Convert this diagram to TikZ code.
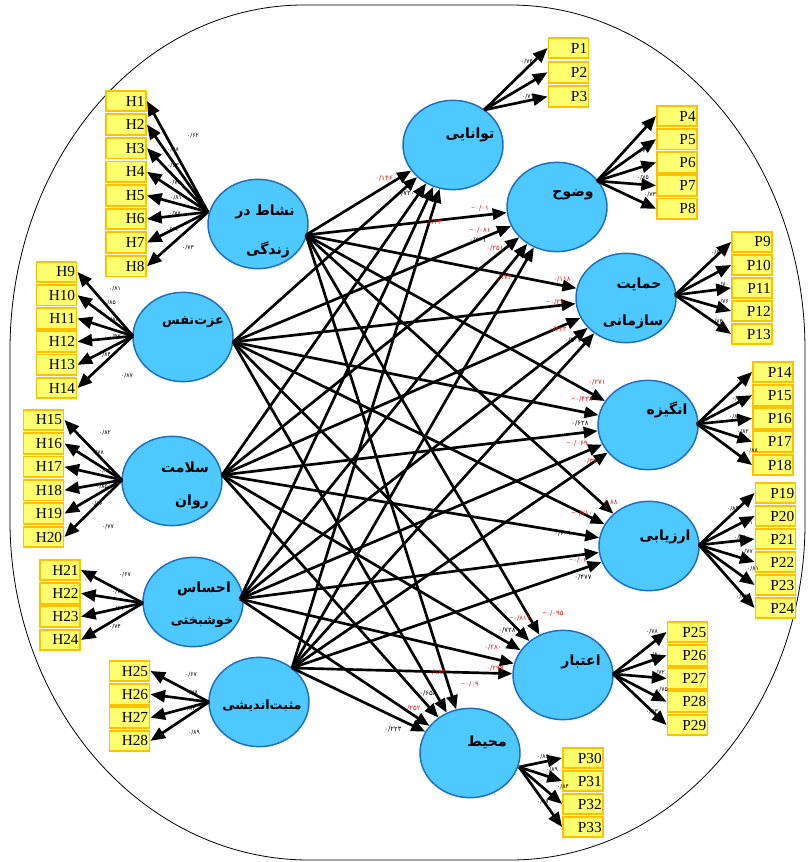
\documentclass[tikz,border=0pt]{standalone}
\usepackage{fontspec}
\setmainfont{Liberation Serif}
\newfontfamily\fafont[Script=Arabic]{DejaVu Sans}
\newfontfamily\lsans{Liberation Sans}
\newcommand\mns{{\lsans −}}
\TeXXeTstate=1
\usetikzlibrary{arrows.meta,shapes.geometric}

\definecolor{latfill}{RGB}{77,201,255}
\definecolor{latline}{RGB}{30,110,190}
\definecolor{boxfill}{RGB}{255,255,110}
\definecolor{boxline}{RGB}{255,192,0}
\definecolor{coefred}{RGB}{235,20,20}

\begin{document}
\begin{tikzpicture}[x=0.75pt,y=-0.75pt,
  lat/.style={ellipse,draw=latline,fill=latfill,line width=1.1pt,
    minimum width=75pt,minimum height=67pt,inner sep=0pt},
  ind/.style={rectangle,draw=boxline,fill=boxfill,line width=1.4pt,
    minimum height=15.5pt,text width=28pt,align=right,inner xsep=1pt,
    inner ysep=0pt,font=\fontsize{11.5}{12}\selectfont},
  fa/.style={font=\fafont\bfseries\fontsize{10.5}{12}\selectfont,inner sep=0pt},
  fasmall/.style={font=\fafont\bfseries\fontsize{9.6}{11}\selectfont,inner sep=0pt},
  load/.style={-{Triangle[length=11pt,width=9pt]},line width=2pt},
  effect/.style={-{Triangle[length=10.5pt,width=8.5pt]},line width=2pt},
  ld/.style={font=\fafont\fontsize{4.5}{5}\selectfont,inner sep=0pt},
  cf/.style={font=\fafont\fontsize{5.2}{6}\selectfont,inner sep=0pt},
]
\useasboundingbox (0,0) rectangle (807,862);

% outer frame
\draw[line width=0.6pt] (304,5) -- (510,5)
  arc[start angle=-90,end angle=0,x radius=295,y radius=345] -- (805,523)
  arc[start angle=0,end angle=90,x radius=295,y radius=337] -- (309,860)
  arc[start angle=90,end angle=180,x radius=299,y radius=339] -- (10,350)
  arc[start angle=180,end angle=270,x radius=294,y radius=345] -- cycle;

% latent variables
\node[lat] (x1) at (258,224) {};
\node[lat] (x2) at (183,337) {};
\node[lat] (x3) at (172,481) {};
\node[lat] (x4) at (193,602) {};
\node[lat] (x5) at (259,702) {};
\node[lat] (y1) at (453,145) {};
\node[lat] (y2) at (557,207) {};
\node[lat] (y3) at (626,298) {};
\node[lat] (y4) at (648,425) {};
\node[lat] (y5) at (649,546) {};
\node[lat] (y6) at (563,675) {};
\node[lat] (y7) at (470,753) {};

% latent names
\node[fa] (t1a) at (265,212) {\beginR نشاط در\endR};
\node[fa] (t1b) at (268,250) {\beginR زندگی\endR};
\node[fasmall] (t2) at (193,322) {\beginR عزت‌نفس\endR};
\node[fa] (t3a) at (185,467) {\beginR سلامت\endR};
\node[fa] (t3b) at (192,502) {\beginR روان\endR};
\node[fa] (t4a) at (204,589) {\beginR احساس\endR};
\node[fasmall] (t4b) at (202,622) {\beginR خوشبختی\endR};
\node[fasmall] (t5) at (262,706) {\beginR مثبت‌اندیشی\endR};
\node[fa] (u1) at (470,135) {\beginR توانایی\endR};
\node[fa] (u2) at (573,195) {\beginR وضوح\endR};
\node[fa] (u3a) at (639,284) {\beginR حمایت\endR};
\node[fa] (u3b) at (633,322) {\beginR سازمانی\endR};
\node[fa] (u4) at (667,410) {\beginR انگیزه\endR};
\node[fa] (u5) at (665,537) {\beginR ارزیابی\endR};
\node[fa] (u6) at (581,662) {\beginR اعتبار\endR};
\node[fa] (u7) at (487,742) {\beginR محیط\endR};

% indicator boxes
\foreach \i in {1,...,8}  \node[ind] (H\i) at (126,{101+23.6*(\i-1)}) {H\i};
\foreach \i in {9,...,14} \node[ind] (H\i) at (56.5,{272+23.2*(\i-9)}) {H\i};
\foreach \i in {15,...,20} \node[ind] (H\i) at (43.5,{420+23.4*(\i-15)}) {H\i};
\foreach \i in {21,...,24} \node[ind] (H\i) at (60,{570+23.3*(\i-21)}) {H\i};
\foreach \i in {25,...,28} \node[ind] (H\i) at (129.5,{671+23.3*(\i-25)}) {H\i};
\foreach \i in {1,...,3}  \node[ind] (P\i) at (568.5,{48+24.3*(\i-1)}) {P\i};
\foreach \i in {4,...,8}  \node[ind] (P\i) at (677,{116+23.2*(\i-4)}) {P\i};
\foreach \i in {9,...,13} \node[ind] (P\i) at (752,{242+23*(\i-9)}) {P\i};
\foreach \i in {14,...,18} \node[ind] (P\i) at (773,{372+23.25*(\i-14)}) {P\i};
\foreach \i in {19,...,24} \node[ind] (P\i) at (775.5,{493+23*(\i-19)}) {P\i};
\foreach \i in {25,...,29} \node[ind] (P\i) at (687.5,{632+23.25*(\i-25)}) {P\i};
\foreach \i in {30,...,33} \node[ind] (P\i) at (583,{758+23*(\i-30)}) {P\i};

% measurement origins on the ellipses
\coordinate (m1) at (208,212);
\coordinate (m2) at (133,336);
\coordinate (m3) at (122,480);
\coordinate (m4) at (143,603);
\coordinate (m5) at (209,702);
\coordinate (n1) at (484,110);
\coordinate (n2) at (597,181);
\coordinate (n3) at (675,295);
\coordinate (n4) at (697,424);
\coordinate (n5) at (699,545);
\coordinate (n6) at (613,674);
\coordinate (n7) at (519,767);

% measurement arrows
\foreach \i in {1,...,8}   \draw[load] (m1) -- (H\i.east);
\foreach \i in {9,...,14}  \draw[load] (m2) -- (H\i.east);
\foreach \i in {15,...,20} \draw[load] (m3) -- (H\i.east);
\foreach \i in {21,...,24} \draw[load] (m4) -- (H\i.east);
\foreach \i in {25,...,28} \draw[load] (m5) -- (H\i.east);
\foreach \i in {1,...,3}   \draw[load] (n1) -- (P\i.west);
\foreach \i in {4,...,8}   \draw[load] (n2) -- (P\i.west);
\foreach \i in {9,...,13}  \draw[load] (n3) -- (P\i.west);
\foreach \i in {14,...,18} \draw[load] (n4) -- (P\i.west);
\foreach \i in {19,...,24} \draw[load] (n5) -- (P\i.west);
\foreach \i in {25,...,29} \draw[load] (n6) -- (P\i.west);
\foreach \i in {30,...,33} \draw[load] (n7) -- (P\i.west);

% structural origins
\coordinate (s1) at (306,235);
\coordinate (s2) at (233,342);
\coordinate (s3) at (222,475);
\coordinate (s4) at (240,599);
\coordinate (s5) at (292,668);

% structural paths
\foreach \s in {1,...,5}
  \foreach \t in {1,...,7}
    \draw[effect] (s\s) -- (y\t);

% loadings
\foreach \n/\x/\y/\v in {
  a1/193/136/{۰/۶۲}, a2/173/150/{۰/۵۸}, a3/173/166/{۰/۶۳}, a4/175/183/{۰/۷۲},
  a5/176/198/{۰/۸۱}, a6/175/214/{۰/۷۸}, a7/172/230/{۰/۷۹}, a8/188/248/{۰/۷۳},
  a9/115/289/{۰/۸۱}, a10/110/303/{۰/۸۵}, a11/113/320/{۰/۸۸}, a12/115/337/{۰/۹۲},
  a13/105/355/{۰/۸۴}, a14/127/376/{۰/۸۷},
  a15/105/433/{۰/۸۲}, a16/98/453/{۰/۷۸}, a17/105/471/{۰/۸۴}, a18/102/487/{۰/۸۵},
  a19/97/504/{۰/۸۶}, a20/108/527/{۰/۷۷},
  a21/125/575/{۰/۶۷}, a22/118/592/{۰/۷۲}, a23/118/609/{۰/۶۱}, a24/115/627/{۰/۷۴},
  a25/191/675/{۰/۶۷}, a26/192/693/{۰/۷۸}, a27/190/709/{۰/۸۴}, a28/194/733/{۰/۸۹},
  b1/527/62/{۰/۷۴}, b2/537/79/{۰/۷۸}, b3/528/97/{۰/۷۱},
  b4/647/125/{۰/۸۰}, b5/643/151/{۰/۷۹}, b6/647/166/{۰/۸۱}, b7/643/178/{۰/۷۵}, b8/650/195/{۰/۷۳},
  b9/717/253/{۰/۶۸}, b10/722/270/{۰/۷۱}, b11/723/285/{۰/۷۰}, b12/723/302/{۰/۷۶}, b13/717/322/{۰/۷۴},
  b14/742/381/{۰/۸۴}, b15/738/399/{۰/۸۶}, b16/735/417/{۰/۸۵}, b17/743/432/{۰/۸۲}, b18/752/451/{۰/۸۸},
  b19/733/509/{۰/۸۹}, b20/747/523/{۰/۸۱}, b21/740/538/{۰/۸۶}, b22/747/552/{۰/۷۷}, b23/753/569/{۰/۸۱}, b24/742/597/{۰/۸۳},
  b25/652/632/{۰/۷۸}, b26/655/655/{۰/۸۰}, b27/659/673/{۰/۷۲}, b28/662/690/{۰/۷۵}, b29/652/712/{۰/۸۳},
  b30/543/757/{۰/۸۶}, b31/552/770/{۰/۸۹}, b32/563/787/{۰/۸۴}, b33/543/802/{۰/۸۷}}
  \node[ld] (\n) at (\x,\y) {\v};

% path coefficients
\foreach \n/\x/\y/\c/\v in {
  c1/384/178/coefred/{۰/۱۴۶}, c2/406/193/black/{۰/۷۲۰},
  c3/480/208/coefred/{\mns ۰/۰۱}, c4/433/222/coefred/{۰/۱۴۳}, c5/480/230/coefred/{\mns ۰/۰۸۱},
  c6/478/240/black/{۰/۶۰۱}, c7/495/248/coefred/{۰/۲۵۱}, c8/503/277/coefred/{۰/۱۷۳},
  c9/562/279/coefred/{۰/۱۱۸}, c10/555/302/coefred/{\mns ۰/۲۷}, c11/558/329/coefred/{۰/۲۲۲},
  c12/573/340/black/{۰/۵۰۲},
  c13/597/382/coefred/{۰/۲۷۱}, c14/582/399/coefred/{\mns ۰/۴۳۸}, c15/580/423/black/{۰/۶۲۸},
  c16/577/443/coefred/{\mns ۰/۰۶۹}, c17/592/461/coefred/{۰/۳۲۰},
  c18/607/502/coefred/{\mns ۰/۰۸۸}, c19/582/513/coefred/{\mns ۰/۷۱۰}, c20/563/533/black/{۰/۶۰۱},
  c21/578/560/coefred/{\mns ۰/۰۶}, c22/583/577/black/{۰/۴۷۷},
  c23/553/613/coefred/{\mns ۰/۰۹۵}, c24/520/618/coefred/{\mns ۰/۸۱۱}, c25/507/630/black/{۰/۷۲۸},
  c26/493/647/coefred/{۰/۲۸۰}, c27/495/668/coefred/{۰/۲۹۹},
  c28/437/672/coefred/{۰/۱۸۳}, c29/470/684/coefred/{\mns ۰/۰۹}, c30/428/693/black/{۰/۶۵۸},
  c31/412/708/coefred/{۰/۲۵۲}, c32/393/729/black/{۰/۲۲۳}}
  \node[cf,text=\c] (\n) at (\x,\y) {\v};
\end{tikzpicture}
\end{document}
